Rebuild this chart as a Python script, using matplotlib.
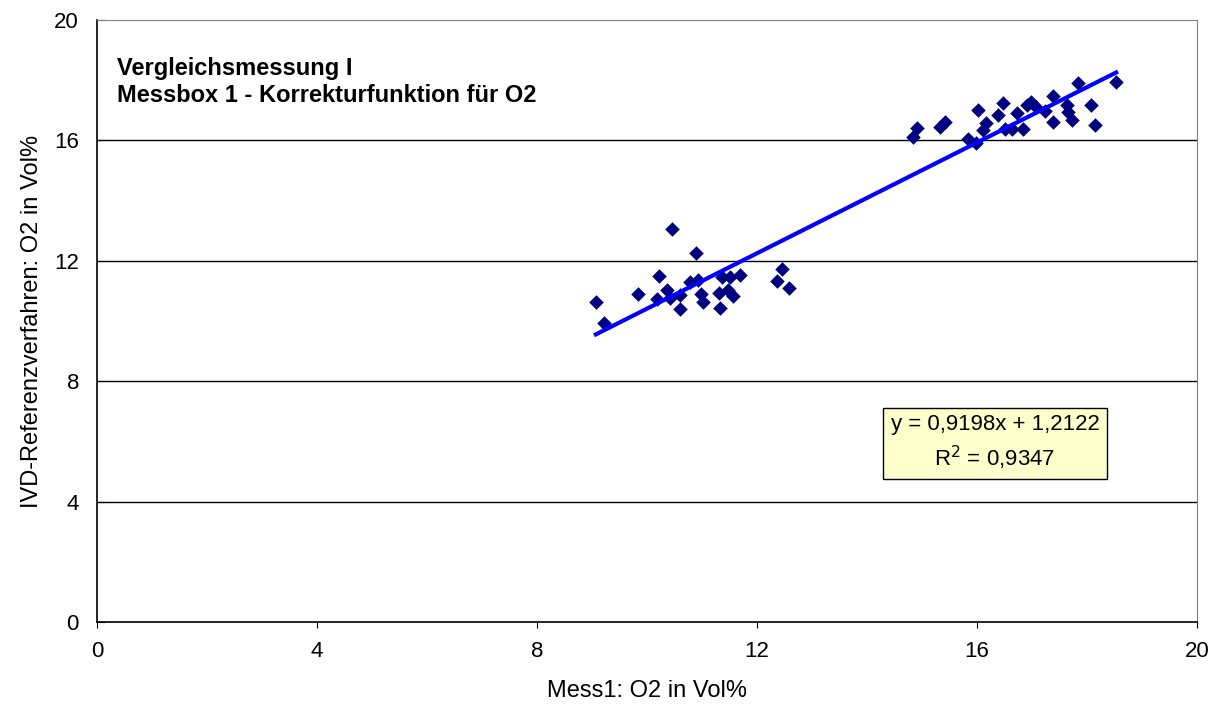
import numpy as np
import matplotlib
matplotlib.use('Agg')
import matplotlib.pyplot as plt

plt.rcParams['font.family'] = ['Liberation Sans', 'DejaVu Sans']

mess1_o2 = [9.07, 9.21, 9.84, 10.22, 10.19, 10.36, 10.41, 10.45, 10.60, 10.60,
            10.78, 10.89, 10.93, 10.98, 11.02, 11.30, 11.33, 11.36, 11.48, 11.56,
            11.51, 11.69, 12.37, 12.46, 12.58,
            14.84, 14.90, 15.33, 15.42, 15.84, 15.98, 16.01, 16.11, 16.16, 16.39,
            16.47, 16.51, 16.63, 16.72, 16.83, 16.90, 16.99, 17.08, 17.24, 17.39,
            17.39, 17.63, 17.66, 17.72, 17.83, 18.08, 18.15, 18.53]
ivd_o2 = [10.63, 9.92, 10.89, 11.50, 10.72, 11.03, 10.75, 13.07, 10.39, 10.86,
          11.31, 12.27, 11.36, 10.90, 10.64, 10.94, 10.42, 11.45, 11.03, 10.83,
          11.47, 11.53, 11.34, 11.73, 11.09,
          16.12, 16.40, 16.46, 16.60, 16.05, 15.92, 17.01, 16.35, 16.57, 16.84,
          17.23, 16.38, 16.38, 16.90, 16.38, 17.18, 17.27, 17.12, 16.99, 17.48,
          16.62, 17.18, 16.95, 16.68, 17.92, 17.18, 16.51, 17.95]

slope = 0.9198
intercept = 1.2122
r2 = 0.9347

fig = plt.figure(figsize=(12.2, 7.09), dpi=100)
ax = fig.add_axes([97 / 1220, 87 / 709, 1100 / 1220, 602 / 709])

ax.scatter(mess1_o2, ivd_o2, marker='D', s=55, color='#000080', zorder=3, linewidths=0)

xs = np.array([min(mess1_o2), max(mess1_o2)])
ax.plot(xs, slope * xs + intercept, color='#0000FF', lw=3, zorder=4)

ax.set_xlim(0, 20)
ax.set_ylim(0, 20)
ax.set_xticks([0, 4, 8, 12, 16, 20])
ax.set_yticks([0, 4, 8, 12, 16, 20])
for yv in [4, 8, 12, 16]:
    ax.axhline(yv, color='black', lw=1, zorder=1)
for side in ['top', 'right']:
    ax.spines[side].set_color('#808080')
ax.spines['left'].set_linewidth(1.2)
ax.spines['bottom'].set_linewidth(1.2)
ax.tick_params(axis='x', direction='out', length=4.5, labelsize=16, pad=9)
ax.tick_params(axis='y', direction='in', length=5.5, labelsize=16, pad=13)

ax.set_xlabel('Mess1: O2 in Vol%', fontsize=17, labelpad=13)
ax.set_ylabel('IVD-Referenzverfahren: O2 in Vol%', fontsize=17, labelpad=8)

ax.text(20 / 1100, (622 - 69) / 602, 'Vergleichsmessung I', transform=ax.transAxes,
        fontsize=17, fontweight='bold', va='center')
ax.text(20 / 1100, (622 - 96) / 602, 'Messbox 1 - Korrekturfunktion für O2',
        transform=ax.transAxes, fontsize=17, fontweight='bold', va='center')

eq = f'y = {slope:.4f}x + {intercept:.4f}'.replace('.', ',')
rr = 'R$^2$ = ' + f'{r2:.4f}'.replace('.', ',')
ax.text((995 - 97) / 1100, (622 - 443) / 602, eq + '\n' + rr,
        transform=ax.transAxes, fontsize=16, ha='center', va='center',
        multialignment='center', linespacing=1.35,
        bbox=dict(boxstyle='square,pad=0.33', fc='#FFFFCC', ec='black', lw=1))

fig.savefig('out.png', dpi=100)
